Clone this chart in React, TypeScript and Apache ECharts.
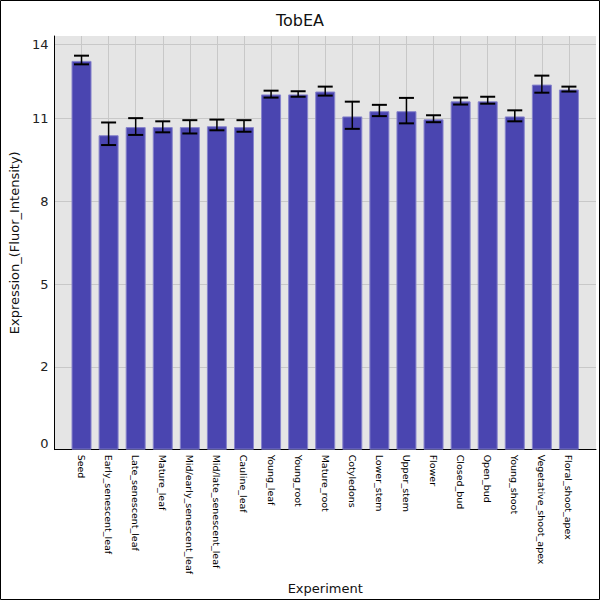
import React, { useEffect, useRef } from "react";
import * as echarts from "echarts";

const categories = [
  "Seed", "Early_senescent_leaf", "Late_senescent_leaf", "Mature_leaf",
  "Mid/early_senescent_leaf", "Mid/late_senescent_leaf", "Cauline_leaf",
  "Young_leaf", "Young_root", "Mature_root", "Cotyledons", "Lower_stem",
  "Upper_stem", "Flower", "Closed_bud", "Open_bud", "Young_shoot",
  "Vegetative_shoot_apex", "Floral_shoot_apex",
];
const means = [
  13.44, 10.87, 11.15, 11.15, 11.15, 11.18, 11.15, 12.28, 12.28, 12.38,
  11.52, 11.7, 11.7, 11.42, 12.04, 12.04, 11.52, 12.62, 12.45,
];
const errHigh = [
  13.62, 11.31, 11.46, 11.35, 11.39, 11.41, 11.39, 12.41, 12.39, 12.55,
  12.03, 11.92, 12.16, 11.56, 12.17, 12.2, 11.73, 12.93, 12.55,
];
const errLow = [
  13.32, 10.53, 10.88, 10.97, 10.93, 11.04, 10.99, 12.17, 12.2, 12.24,
  11.09, 11.53, 11.28, 11.32, 11.93, 11.96, 11.35, 12.34, 12.38,
];
const yTicks = [0, 2.86, 5.72, 8.58, 11.44, 14];
// categories sit at positions 1..n on a 0..n+1 axis
const xPositions = categories.map((_, i) => i + 1);

const FONT = "DejaVu Sans";

const App: React.FC = () => {
  const chartRef = useRef<HTMLDivElement>(null);

  useEffect(() => {
    document.body.style.margin = "0";
    if (!chartRef.current) return;
    const chart = echarts.init(chartRef.current, undefined, { renderer: "svg" });

    const option: any = {
      animation: false,
      backgroundColor: "#ffffff",
      title: {
        text: "TobEA",
        left: "center",
        top: 7,
        textStyle: { fontFamily: FONT, fontSize: 16, fontWeight: "normal", color: "#111" },
      },
      grid: {
        left: 50,
        right: 4,
        top: 36,
        bottom: 146,
        show: true,
        backgroundColor: "#e5e5e5",
        borderWidth: 0,
      },
      xAxis: {
        type: "value",
        min: 0,
        max: categories.length + 1,
        interval: 1,
        name: "Experiment",
        nameLocation: "middle",
        nameGap: 131,
        nameTextStyle: { fontFamily: FONT, fontSize: 13, color: "#111" },
        axisLine: { show: true, onZero: false, lineStyle: { color: "#000", width: 1 } },
        axisTick: { show: false },
        splitLine: { show: true, showMinLine: false, showMaxLine: false, lineStyle: { color: "#c8c8c8", width: 1 } },
        axisLabel: {
          rotate: -90,
          margin: 5,
          showMinLabel: false,
          showMaxLabel: false,
          fontFamily: FONT,
          fontSize: 9.5,
          color: "#000",
          formatter: (v: number) => categories[Math.round(v) - 1] ?? "",
        },
      },
      yAxis: {
        type: "value",
        min: 0,
        max: 14.3,
        name: "Expression_(Fluor_Intensity)",
        nameLocation: "middle",
        nameGap: 25,
        nameTextStyle: { fontFamily: FONT, fontSize: 13, color: "#111" },
        axisLine: { show: true, lineStyle: { color: "#000", width: 1 } },
        axisTick: { show: false, customValues: yTicks },
        splitLine: { show: true, lineStyle: { color: "#c8c8c8", width: 1 } },
        axisLabel: {
          customValues: yTicks,
          margin: 6,
          fontFamily: FONT,
          fontSize: 13,
          color: "#222",
          formatter: (v: number) => (v === 0 ? "{z|0}" : String(Math.floor(v))),
          rich: { z: { fontFamily: FONT, fontSize: 13, color: "#222", padding: [0, 0, 12, 0] } },
        },
      },
      series: [
        {
          type: "bar",
          data: means.map((m, i) => [xPositions[i], m]),
          barWidth: 20,
          itemStyle: { color: "#4a45b0", borderColor: "#8784cc", borderWidth: 1 },
        },
        {
          type: "custom",
          data: means.map((_, i) => [xPositions[i], errLow[i], errHigh[i]]),
          z: 10,
          renderItem: (params: any, api: any) => {
            const x = api.value(0);
            const lo = api.coord([x, api.value(1)]);
            const hi = api.coord([x, api.value(2)]);
            const hw = 7.5;
            const style = { stroke: "#000", lineWidth: 2 };
            return {
              type: "group",
              children: [
                { type: "line", shape: { x1: lo[0], y1: lo[1], x2: hi[0], y2: hi[1] }, style: { stroke: "#000", lineWidth: 1.5 } },
                { type: "line", shape: { x1: hi[0] - hw, y1: hi[1], x2: hi[0] + hw, y2: hi[1] }, style },
                { type: "line", shape: { x1: lo[0] - hw, y1: lo[1], x2: lo[0] + hw, y2: lo[1] }, style },
              ],
            };
          },
        },
      ],
      graphic: [
        {
          type: "rect",
          shape: { x: 0.5, y: 0.5, width: 599, height: 599 },
          style: { fill: "none", stroke: "#000", lineWidth: 1 },
          silent: true,
        },
      ],
    };

    chart.setOption(option);
    return () => {
      chart.dispose();
    };
  }, []);

  return <div ref={chartRef} style={{ width: "600px", height: "600px" }} />;
};

export default App;
